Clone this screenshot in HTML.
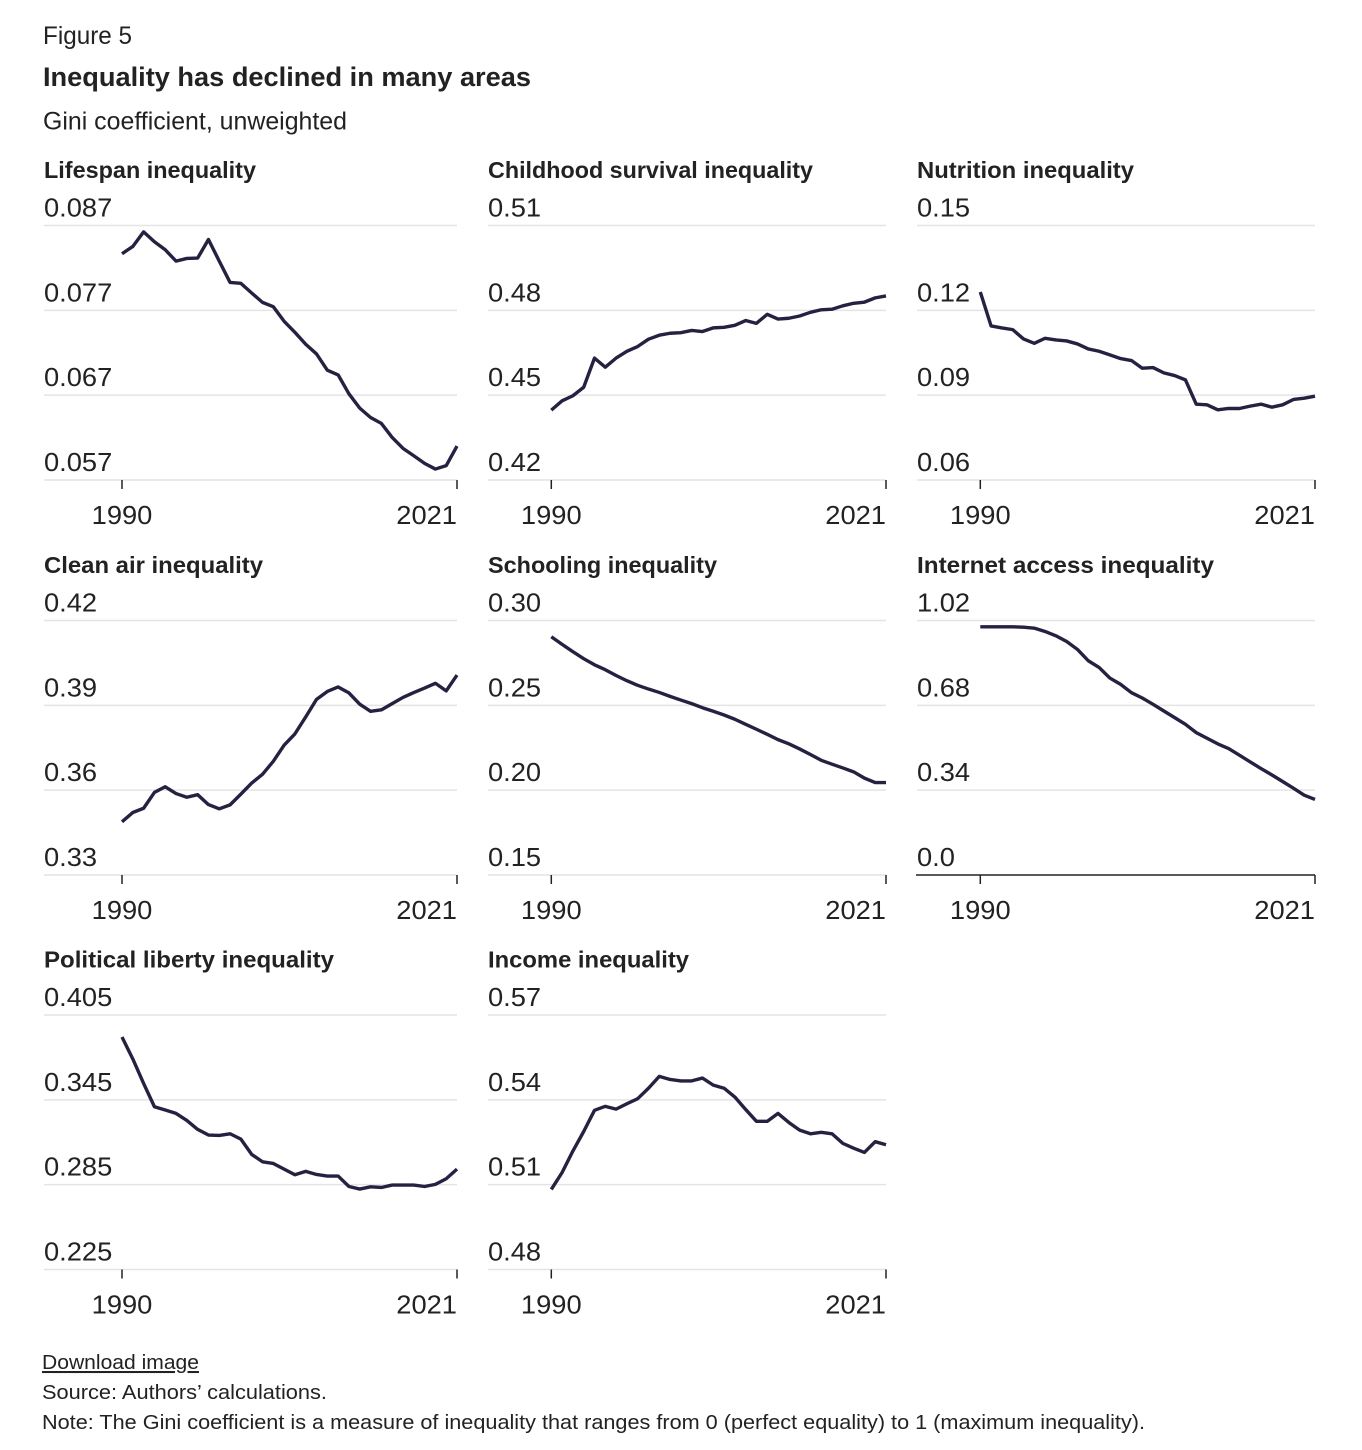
<!DOCTYPE html>
<html lang="en">
<head>
<meta charset="utf-8">
<title>Inequality has declined in many areas</title>
<style>
  html, body { margin: 0; padding: 0; background: #fff; }
  body { width: 1362px; height: 1450px; overflow: hidden; }
  svg { display: block; }
  text { font-family: "Liberation Sans", sans-serif; fill: #222; }
  .head-bold { font-weight: 700; }
  .panel-title { font-weight: 700; font-size: 23px; }
  .tick-label { font-size: 25.5px; }
  .foot { font-size: 20.5px; }
</style>
</head>
<body>
<svg id="figure" width="1362" height="1450" viewBox="0 0 1362 1450" xmlns="http://www.w3.org/2000/svg">
  <text x="43" y="44" font-size="25" textLength="89" lengthAdjust="spacingAndGlyphs">Figure 5</text>
  <text class="head-bold" x="43" y="86" font-size="27" textLength="488" lengthAdjust="spacingAndGlyphs">Inequality has declined in many areas</text>
  <text x="43" y="129.5" font-size="25" textLength="304" lengthAdjust="spacingAndGlyphs">Gini coefficient, unweighted</text>
  <g id="panels"></g>
  <text class="foot" x="42" y="1369" textLength="157" lengthAdjust="spacingAndGlyphs" text-decoration="underline" style="cursor:pointer">Download image</text>
  <text class="foot" x="42" y="1399" textLength="285" lengthAdjust="spacingAndGlyphs">Source: Authors’ calculations.</text>
  <text class="foot" x="42" y="1429" textLength="1103" lengthAdjust="spacingAndGlyphs">Note: The Gini coefficient is a measure of inequality that ranges from 0 (perfect equality) to 1 (maximum inequality).</text>
</svg>
<script>
const years = [1990,1991,1992,1993,1994,1995,1996,1997,1998,1999,2000,2001,2002,2003,2004,2005,2006,2007,2008,2009,2010,2011,2012,2013,2014,2015,2016,2017,2018,2019,2020,2021];
const xTickYears = [1990, 2021];

const lifespanTicks = ["0.057","0.067","0.077","0.087"];
const lifespanValues = [0.08367,0.08453,0.08625,0.08508,0.08414,0.08280,0.08312,0.08316,0.08535,0.08280,0.08029,0.08018,0.07904,0.07794,0.07743,0.07571,0.07441,0.07300,0.07186,0.06994,0.06939,0.06716,0.06547,0.06437,0.06367,0.06202,0.06073,0.05986,0.05896,0.05829,0.05869,0.06100];

const childhoodTicks = ["0.42","0.45","0.48","0.51"];
const childhoodValues = [0.4447,0.4480,0.4498,0.4528,0.4631,0.4599,0.4631,0.4655,0.4672,0.4698,0.4712,0.4719,0.4721,0.4729,0.4725,0.4738,0.4740,0.4747,0.4764,0.4754,0.4786,0.4769,0.4772,0.4780,0.4793,0.4802,0.4804,0.4816,0.4825,0.4829,0.4844,0.4851];

const nutritionTicks = ["0.06","0.09","0.12","0.15"];
const nutritionValues = [0.12647,0.11447,0.11376,0.11318,0.10988,0.10835,0.11012,0.10953,0.10918,0.10812,0.10635,0.10553,0.10424,0.10294,0.10224,0.09953,0.09976,0.09788,0.09694,0.09541,0.08682,0.08659,0.08482,0.08529,0.08529,0.08612,0.08682,0.08576,0.08659,0.08847,0.08894,0.08965];

const cleanAirTicks = ["0.33","0.36","0.39","0.42"];
const cleanAirValues = [0.3488,0.3521,0.3536,0.3592,0.3612,0.3588,0.3575,0.3584,0.3549,0.3534,0.3548,0.3586,0.3625,0.3656,0.3702,0.3759,0.3799,0.3859,0.3921,0.3949,0.3965,0.3944,0.3904,0.3879,0.3884,0.3906,0.3928,0.3945,0.3961,0.3978,0.3951,0.4007];

const schoolingTicks = ["0.15","0.20","0.25","0.30"];
const schoolingValues = [0.2904,0.2859,0.2816,0.2775,0.2739,0.2710,0.2676,0.2645,0.2618,0.2596,0.2576,0.2553,0.2531,0.2510,0.2486,0.2465,0.2443,0.2418,0.2388,0.2359,0.2329,0.2298,0.2273,0.2243,0.2210,0.2176,0.2153,0.2131,0.2108,0.2071,0.2045,0.2045];

const internetTicks = ["0.0","0.34","0.68","1.02"];
const internetValues = [0.9947,0.9947,0.9947,0.9947,0.9933,0.9893,0.976,0.9587,0.936,0.904,0.8587,0.832,0.7893,0.764,0.7307,0.7093,0.684,0.6573,0.6307,0.604,0.5707,0.548,0.5253,0.5067,0.48,0.4533,0.4267,0.4013,0.3747,0.348,0.32,0.3027];

const libertyTicks = ["0.225","0.285","0.345","0.405"];
const libertyValues = [0.3894,0.3739,0.3566,0.3401,0.3378,0.3354,0.3304,0.3241,0.3201,0.3198,0.3210,0.3172,0.3064,0.3012,0.3000,0.2960,0.2920,0.2944,0.2922,0.2911,0.2911,0.2837,0.2819,0.2835,0.2830,0.2847,0.2847,0.2847,0.2837,0.2852,0.2892,0.2960];

const incomeTicks = ["0.48","0.51","0.54","0.57"];
const incomeValues = [0.5083,0.5143,0.5219,0.5288,0.5363,0.5377,0.5367,0.5386,0.5404,0.5441,0.5483,0.5472,0.5467,0.5467,0.5477,0.5452,0.5441,0.5410,0.5366,0.5324,0.5324,0.5352,0.5320,0.5293,0.5280,0.5285,0.5280,0.5246,0.5229,0.5214,0.5252,0.5241];

const SVG_NS = "http://www.w3.org/2000/svg";
const root = document.getElementById("panels");

/* column geometry: left edge of gridlines, x of first year, x of last year */
const columnGeometry = [
  { left: 44, x0: 122, x1: 457 },
  { left: 488, x0: 551.3, x1: 886 },
  { left: 917, x0: 980.3, x1: 1315 }
];
/* row geometry: y of top gridline and of baseline */
const rowGeometry = [
  { top: 225.5, bottom: 480 },
  { top: 620.5, bottom: 875 },
  { top: 1015, bottom: 1269.5 }
];

function svgEl(tag, parent) {
  const el = document.createElementNS(SVG_NS, tag);
  parent.appendChild(el);
  return el;
}

function drawPanel(slug, title, titleWidth, ticks, values, col, row, darkBaseline) {
  const c = columnGeometry[col];
  const r = rowGeometry[row];
  const tickNums = ticks.map(parseFloat);
  const yMin = tickNums[0];
  const yMax = tickNums[tickNums.length - 1];
  const xScale = function (yr) {
    return c.x0 + (yr - years[0]) / (years[years.length - 1] - years[0]) * (c.x1 - c.x0);
  };
  const yScale = function (v) {
    return r.bottom - (v - yMin) / (yMax - yMin) * (r.bottom - r.top);
  };

  const g = svgEl("g", root);
  
  

  const titleEl = svgEl("text", g);
  
  
  titleEl.setAttribute("class", "panel-title");
  titleEl.setAttribute("x", c.left);
  titleEl.setAttribute("y", r.top - 47.5);
  titleEl.setAttribute("textLength", titleWidth);
  titleEl.setAttribute("lengthAdjust", "spacingAndGlyphs");
  titleEl.textContent = title;

  ticks.forEach(function (label, i) {
    const y = yScale(tickNums[i]);
    const isBase = i === 0;
    const line = svgEl("line", g);
    
    
    line.setAttribute("x1", isBase && darkBaseline ? c.left - 1 : c.left);
    line.setAttribute("x2", c.x1);
    line.setAttribute("y1", y);
    line.setAttribute("y2", y);
    line.setAttribute("stroke", isBase && darkBaseline ? "#222" : "#e4e4e4");
    line.setAttribute("stroke-width", 1.5);

    const t = svgEl("text", g);
    
    
    t.setAttribute("class", "tick-label");
    t.setAttribute("x", c.left);
    t.setAttribute("y", y - 9);
    t.textContent = label;
    t.setAttribute("textLength", t.getComputedTextLength() * 1.07);
    t.setAttribute("lengthAdjust", "spacingAndGlyphs");
  });

  xTickYears.forEach(function (yr, i) {
    const x = xScale(yr);
    const tick = svgEl("line", g);
    
    
    tick.setAttribute("x1", x);
    tick.setAttribute("x2", x);
    tick.setAttribute("y1", r.bottom);
    tick.setAttribute("y2", r.bottom + 9);
    tick.setAttribute("stroke", "#222");
    tick.setAttribute("stroke-width", 1.5);

    const t = svgEl("text", g);
    
    
    t.setAttribute("class", "tick-label");
    t.textContent = String(yr);
    const w = t.getComputedTextLength() * 1.07;
    t.setAttribute("textLength", w);
    t.setAttribute("lengthAdjust", "spacingAndGlyphs");
    t.setAttribute("x", i === 0 ? x - w / 2 : x - w);
    t.setAttribute("y", r.bottom + 44);
  });

  const path = svgEl("path", g);
  
  
  path.setAttribute("d", values.map(function (v, i) {
    return (i ? "L" : "M") + xScale(years[i]).toFixed(2) + " " + yScale(v).toFixed(2);
  }).join(""));
  path.setAttribute("fill", "none");
  path.setAttribute("stroke", "#262140");
  path.setAttribute("stroke-width", 3.4);
  path.setAttribute("stroke-linejoin", "round");
}

drawPanel("lifespan", "Lifespan inequality", 212, lifespanTicks, lifespanValues, 0, 0, false);
drawPanel("childhood-survival", "Childhood survival inequality", 325, childhoodTicks, childhoodValues, 1, 0, false);
drawPanel("nutrition", "Nutrition inequality", 217, nutritionTicks, nutritionValues, 2, 0, false);
drawPanel("clean-air", "Clean air inequality", 219, cleanAirTicks, cleanAirValues, 0, 1, false);
drawPanel("schooling", "Schooling inequality", 229, schoolingTicks, schoolingValues, 1, 1, false);
drawPanel("internet-access", "Internet access inequality", 297, internetTicks, internetValues, 2, 1, true);
drawPanel("political-liberty", "Political liberty inequality", 290, libertyTicks, libertyValues, 0, 2, false);
drawPanel("income", "Income inequality", 201, incomeTicks, incomeValues, 1, 2, false);
</script>
</body>
</html>
